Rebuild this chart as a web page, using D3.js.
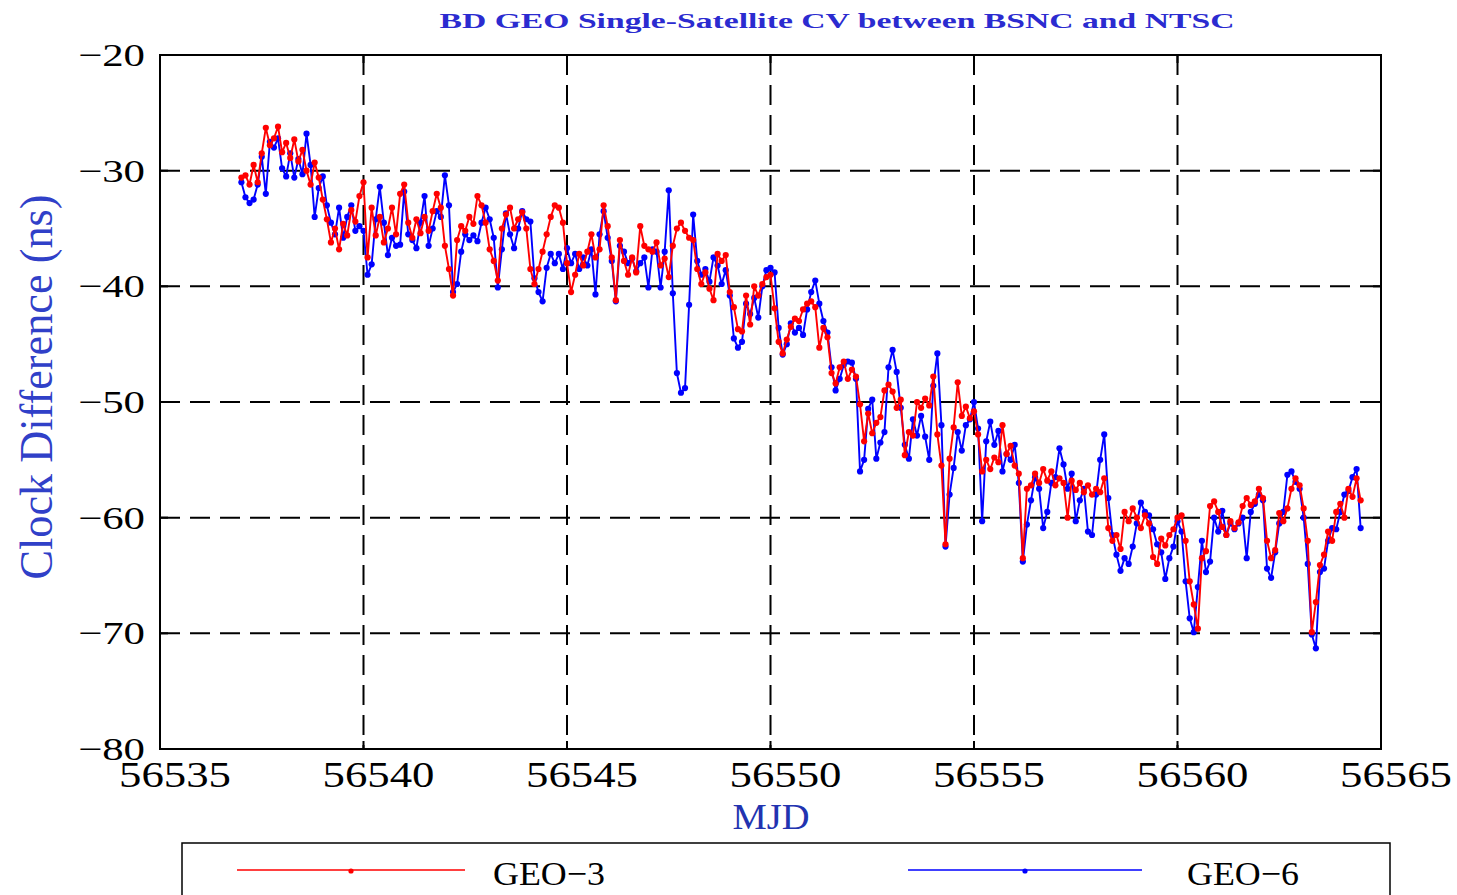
<!DOCTYPE html>
<html>
<head>
<meta charset="utf-8">
<script src="https://cdn.jsdelivr.net/npm/d3@7"></script>
<style>
  body { margin: 0; background: #fff; }
  svg { display: block; }
</style>
</head>
<body>
<svg id="chart"></svg>
<script>
// sampling epochs: one value every 0.1 day starting at MJD 56537.0
const startMJD = 56537.0;
const stepDays = 0.1;

// GEO-3 clock difference (ns), one row per day
const geo3 = [
  -30.6, -30.4, -31.2, -29.5, -31.0, -28.5, -26.3, -27.8, -27.2, -26.2,
  -28.4, -27.6, -28.9, -27.3, -29.2, -28.2, -30.0, -31.2, -29.3, -30.6,
  -32.5, -34.2, -36.2, -35.0, -36.8, -34.6, -35.6, -33.4, -34.4, -32.2,
  -31.0, -37.5, -33.2, -35.6, -34.0, -36.2, -35.0, -33.2, -35.5, -32.0,
  -31.2, -34.5, -35.8, -34.2, -35.4, -34.0, -35.2, -33.5, -32.0, -33.2,
  -36.5, -38.5, -40.8, -36.0, -34.8, -35.2, -34.0, -34.6, -32.2, -33.0,
  -34.5, -36.8, -37.8, -39.5, -35.0, -33.8, -33.2, -35.0, -34.2, -33.6,
  -35.0, -38.5, -39.8, -38.5, -37.0, -35.5, -34.0, -33.0, -33.2, -34.5,
  -38.0, -40.5, -39.0, -37.2, -38.2, -37.0, -35.5, -37.5, -36.8, -33.0,
  -34.8, -37.5, -41.2, -36.0, -37.8, -39.0, -37.5, -38.8, -34.8, -36.5,
  -36.8, -37.0, -36.2, -38.2, -37.6, -39.2, -36.5, -35.0, -34.5, -35.2,
  -35.8, -36.0, -38.5, -39.8, -38.8, -40.2, -41.2, -37.2, -37.8, -37.3,
  -40.5, -41.8, -43.7, -43.9, -40.8, -43.3, -40.0, -40.8, -39.8, -39.2,
  -39.0, -41.9, -44.8, -45.8, -44.6, -43.5, -42.8, -43.0, -42.0, -41.5,
  -41.3, -41.8, -45.3, -43.6, -44.4, -47.5, -48.4, -47.0, -46.5, -48.0,
  -47.2, -47.8, -50.2, -53.4, -51.0, -52.7, -51.8, -51.3, -49.0, -48.5,
  -49.1, -50.5, -49.8, -54.6, -52.6, -52.9, -50.0, -50.5, -49.7, -50.3,
  -47.8, -52.8, -55.5, -62.3, -54.9, -52.2, -48.3, -51.2, -50.4, -51.4,
  -50.8, -52.8, -56.0, -55.0, -55.8, -54.8, -55.2, -52.0, -54.5, -53.8,
  -55.5, -56.2, -63.5, -57.5, -57.2, -56.2, -57.0, -55.8, -56.8, -56.0,
  -57.2, -56.6, -57.0, -60.0, -56.8, -57.6, -57.0, -57.8, -57.2, -58.0,
  -57.5, -57.8, -56.6, -60.9, -62.0, -61.5, -62.7, -59.5, -60.3, -59.2,
  -60.0, -60.9, -59.8, -60.5, -63.4, -64.0, -61.8, -62.4, -61.5, -61.0,
  -60.0, -59.8, -62.0, -65.5, -67.5, -69.6, -63.5, -62.9, -59.0, -58.6,
  -59.5, -60.8, -61.5, -60.3, -60.9, -60.4, -59.0, -58.3, -58.9, -58.6,
  -57.5, -58.3, -62.0, -63.5, -62.8, -59.6, -60.3, -59.2, -57.5, -56.6,
  -57.2, -59.2, -62.0, -69.9, -67.3, -64.1, -63.2, -61.2, -62.0, -59.5,
  -58.8, -60.0, -57.5, -58.2, -56.6, -58.5
];

// GEO-6 clock difference (ns)
const geo6 = [
  -31.0, -32.3, -32.8, -32.5, -31.2, -28.8, -32.0, -27.5, -28.0, -27.2,
  -29.8, -30.5, -28.5, -30.6, -29.0, -30.3, -26.8, -29.5, -34.0, -31.5,
  -30.5, -33.0, -34.5, -35.5, -33.2, -35.8, -34.0, -33.0, -35.2, -34.8,
  -35.2, -39.0, -38.1, -34.2, -31.4, -34.5, -37.3, -35.8, -36.5, -36.4,
  -31.8, -35.5, -36.0, -36.7, -34.5, -32.2, -36.5, -35.0, -33.5, -34.0,
  -30.4, -33.0, -40.5, -39.8, -37.0, -35.5, -36.0, -35.6, -36.1, -34.5,
  -33.2, -34.2, -35.8, -40.1, -36.8, -33.7, -35.5, -36.7, -35.0, -33.5,
  -34.2, -34.4, -39.3, -40.5, -41.3, -38.4, -37.2, -38.0, -37.2, -38.5,
  -36.7, -38.0, -37.2, -38.5, -37.5, -38.2, -36.8, -40.7, -35.5, -33.5,
  -35.8, -37.8, -41.3, -36.5, -37.0, -38.0, -37.6, -38.7, -38.0, -37.5,
  -40.1, -36.8, -37.0, -40.1, -37.0, -31.7, -40.6, -47.5, -49.2, -48.8,
  -41.6, -33.8, -37.8, -39.0, -38.5, -39.6, -37.5, -38.2, -39.8, -38.6,
  -40.8, -44.5, -45.3, -44.8, -41.5, -42.4, -41.0, -42.7, -40.0, -38.6,
  -38.4, -38.8, -43.6, -45.9, -45.0, -43.2, -44.0, -43.6, -44.2, -42.0,
  -40.5, -39.5, -41.5, -43.0, -44.0, -47.0, -49.0, -48.0, -46.8, -46.5,
  -46.6, -48.0, -56.0, -55.0, -50.6, -49.8, -54.9, -53.5, -52.6, -47.0,
  -45.5, -47.4, -50.5, -53.7, -54.9, -51.5, -52.9, -51.2, -53.0, -55.0,
  -48.6, -45.8, -52.0, -62.5, -58.0, -55.7, -52.6, -54.2, -52.0, -51.5,
  -50.0, -52.3, -60.3, -53.4, -51.7, -53.7, -52.5, -56.0, -54.5, -55.0,
  -53.7, -57.0, -63.8, -60.6, -58.5, -56.5, -57.5, -60.9, -59.5, -57.0,
  -56.5, -54.0, -55.4, -57.5, -56.2, -60.3, -58.5, -57.5, -61.2, -61.5,
  -58.0, -55.0, -52.8, -58.3, -61.5, -63.2, -64.6, -63.5, -64.0, -62.5,
  -60.5, -58.7, -59.5, -59.8, -61.0, -62.3, -63.0, -65.3, -63.5, -62.5,
  -60.3, -61.2, -65.5, -68.7, -69.9, -66.0, -62.0, -64.7, -63.8, -60.0,
  -61.2, -59.4, -61.5, -60.5, -61.0, -60.5, -60.0, -63.5, -59.5, -58.8,
  -58.0, -58.5, -64.4, -65.2, -63.0, -60.5, -59.5, -56.3, -56.0, -56.9,
  -57.5, -60.0, -64.0, -70.1, -71.3, -64.7, -64.4, -62.0, -60.9, -61.0,
  -59.5, -58.0, -57.7, -56.5, -55.8, -60.9
];

const xTicks = [56535, 56540, 56545, 56550, 56555, 56560, 56565];
const yTicks = [-80, -70, -60, -50, -40, -30, -20];
const seriesNames = ['GEO\u22123', 'GEO\u22126'];
const seriesColors = ['#ff0000', '#0000ff'];

const width = 1457, height = 895;
const plot = { left: 160, right: 1381, top: 55, bottom: 749 };
const serif = '"Liberation Serif", "Times New Roman", serif';

const svg = d3.select('#chart')
    .attr('width', width)
    .attr('height', height);

const x = d3.scaleLinear().domain([56535, 56565]).range([plot.left, plot.right]);
const y = d3.scaleLinear().domain([-80, -20]).range([plot.bottom, plot.top]);

// helper: text stretched to a measured width
function label(g, px, py, str, size, len, opts = {}) {
  return g.append('text')
      .attr('x', px)
      .attr('y', py)
      .attr('font-family', serif)
      .attr('font-size', size)
      .attr('font-weight', opts.weight || 'normal')
      .attr('fill', opts.fill || '#000')
      .attr('text-anchor', opts.anchor || 'middle')
      .attr('textLength', len)
      .attr('lengthAdjust', 'spacingAndGlyphs')
      .text(str);
}

// grid
const grid = svg.append('g')
    .attr('stroke', '#000')
    .attr('stroke-width', 2)
    .attr('stroke-dasharray', '20,10');

grid.selectAll('.vgrid')
  .data(xTicks.slice(1, -1))
  .join('line')
    .attr('class', 'vgrid')
    .attr('x1', d => x(d)).attr('x2', d => x(d))
    .attr('y1', plot.top).attr('y2', plot.bottom);

grid.selectAll('.hgrid')
  .data(yTicks.slice(1, -1))
  .join('line')
    .attr('class', 'hgrid')
    .attr('x1', plot.left).attr('x2', plot.right)
    .attr('y1', d => y(d)).attr('y2', d => y(d));

// frame
svg.append('rect')
    .attr('x', plot.left).attr('y', plot.top)
    .attr('width', plot.right - plot.left)
    .attr('height', plot.bottom - plot.top)
    .attr('fill', 'none')
    .attr('stroke', '#000')
    .attr('stroke-width', 2);

// inner ticks on the frame
const ticks = svg.append('g').attr('stroke', '#000').attr('stroke-width', 2);
xTicks.forEach(t => {
  ticks.append('line').attr('x1', x(t)).attr('x2', x(t)).attr('y1', plot.bottom).attr('y2', plot.bottom - 8);
  ticks.append('line').attr('x1', x(t)).attr('x2', x(t)).attr('y1', plot.top).attr('y2', plot.top + 8);
});
yTicks.forEach(t => {
  ticks.append('line').attr('x1', plot.left).attr('x2', plot.left + 8).attr('y1', y(t)).attr('y2', y(t));
  ticks.append('line').attr('x1', plot.right).attr('x2', plot.right - 8).attr('y1', y(t)).attr('y2', y(t));
});

// tick labels
const tickLabels = svg.append('g');
xTicks.forEach(t => label(tickLabels, x(t) + 15, 787, String(t), 36, 112));
yTicks.forEach(t => label(tickLabels, 145, y(t) + 11, '\u2212' + Math.abs(t), 32, 67, { anchor: 'end' }));

// series: blue underneath, red on top
const series = [
  { name: seriesNames[1], color: seriesColors[1], values: geo6 },
  { name: seriesNames[0], color: seriesColors[0], values: geo3 }
];

const line = d3.line()
    .x((d, i) => x(startMJD + i * stepDays))
    .y(d => y(d));

series.forEach(s => {
  const g = svg.append('g');
  g.append('path')
      .datum(s.values)
      .attr('fill', 'none')
      .attr('stroke', s.color)
      .attr('stroke-width', 1.9)
      .attr('stroke-linejoin', 'round')
      .attr('d', line);
  g.selectAll('circle')
    .data(s.values)
    .join('circle')
      .attr('cx', (d, i) => x(startMJD + i * stepDays))
      .attr('cy', d => y(d))
      .attr('r', 3.1)
      .attr('fill', s.color);
});

// titles
label(svg, 837, 28, 'BD GEO Single-Satellite CV between BSNC and NTSC', 22, 795,
  { weight: 'bold', fill: '#2b2bd0' });
label(svg, 771, 829, 'MJD', 36, 77, { fill: '#2233b0' });

svg.append('text')
    .attr('transform', 'translate(52,387) rotate(-90) scale(1,1.45)')
    .attr('font-family', serif)
    .attr('font-size', 32)
    .attr('fill', '#3040c8')
    .attr('text-anchor', 'middle')
    .attr('textLength', 385)
    .attr('lengthAdjust', 'spacingAndGlyphs')
    .text('Clock Difference (ns)');

// legend
const legend = svg.append('g');
legend.append('rect')
    .attr('x', 182).attr('y', 843)
    .attr('width', 1208).attr('height', 70)
    .attr('fill', '#fff')
    .attr('stroke', '#000')
    .attr('stroke-width', 1.5);

const legendItems = [
  { name: seriesNames[0], color: seriesColors[0], x1: 237, x2: 465, tx: 549 },
  { name: seriesNames[1], color: seriesColors[1], x1: 908, x2: 1142, tx: 1243 }
];
legendItems.forEach(it => {
  legend.append('line')
      .attr('x1', it.x1).attr('x2', it.x2)
      .attr('y1', 870).attr('y2', 870)
      .attr('stroke', it.color)
      .attr('stroke-width', 1.6);
  legend.append('circle')
      .attr('cx', (it.x1 + it.x2) / 2).attr('cy', 871)
      .attr('r', 2.6)
      .attr('fill', it.color);
  label(legend, it.tx, 885, it.name, 34, 112);
});
</script>
</body>
</html>
